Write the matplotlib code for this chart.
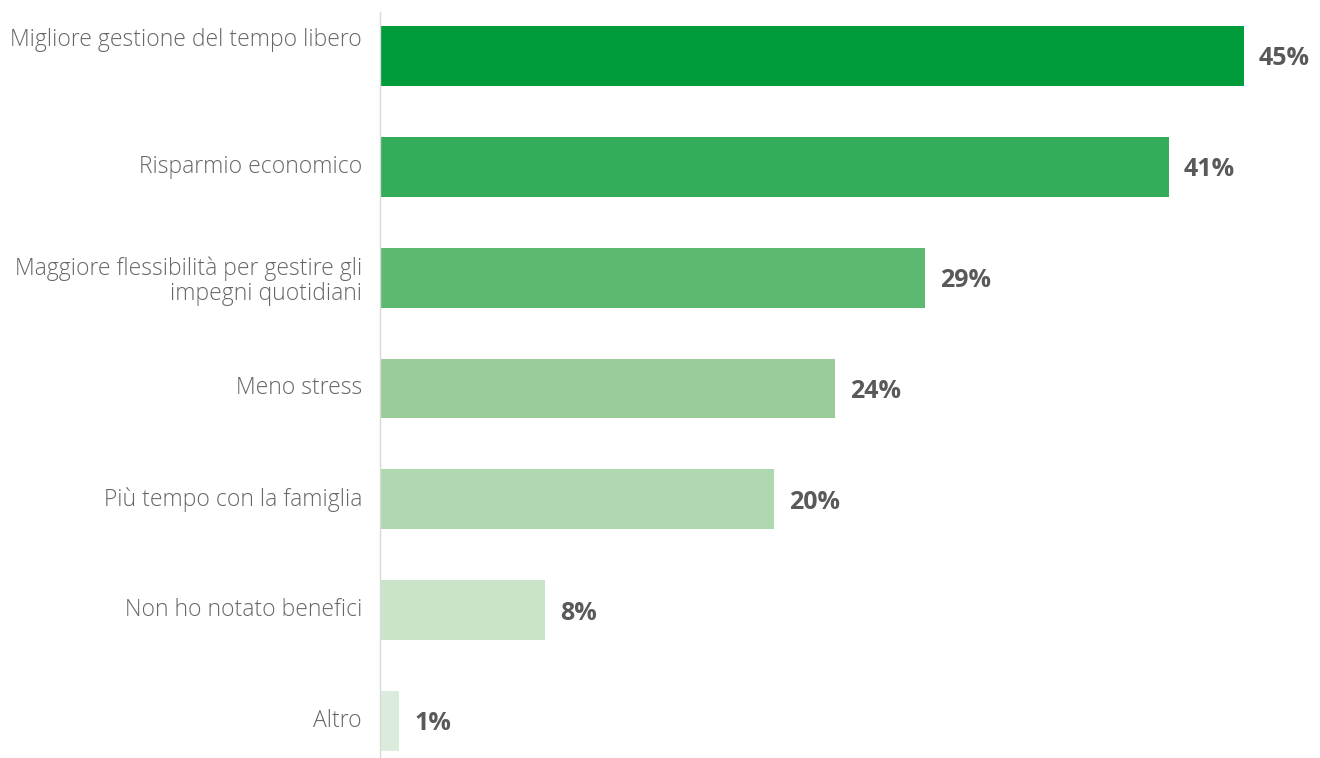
import matplotlib.pyplot as plt

categories = [
    'Migliore gestione del tempo libero',
    'Risparmio economico',
    'Maggiore flessibilità per gestire gli\nimpegni quotidiani',
    'Meno stress',
    'Più tempo con la famiglia',
    'Non ho notato benefici',
    'Altro',
]
values = [45, 41.1, 28.4, 23.7, 20.5, 8.6, 1.0]
value_labels = ['45%', '41%', '29%', '24%', '20%', '8%', '1%']
colors = ['#009c3b', '#34ac5a', '#5db870', '#99cc99', '#b0d8b0', '#c9e4c9', '#dcecdc']

plt.rcParams['font.family'] = ['Open Sans', 'DejaVu Sans']

fig = plt.figure(figsize=(13.2, 7.58), dpi=100)
ax = fig.add_axes([380 / 1320, 0, 940 / 1320, 1 - 12 / 758])

pos = list(range(len(categories)))
ax.barh(pos, values, height=0.54, color=colors)

ax.set_xlim(0, 45 * 940 / 864)
ax.set_ylim(6.334, -0.397)

for i, (v, lab) in enumerate(zip(values, value_labels)):
    ax.annotate(lab, (v, i), xytext=(15, -3), textcoords='offset pixels',
                ha='left', va='center', fontsize=18, fontweight='bold',
                color='#595959')

# category labels, first one sits a bit higher like in the original
for i, cat in enumerate(categories):
    dy = 16 if i == 0 else (-4 if '\n' in cat else 0)
    ax.annotate(cat, (0, i), xytext=(-18, dy), textcoords='offset pixels',
                ha='right', va='center', fontsize=16.5, fontweight='light',
                color='#666666', linespacing=1.05, annotation_clip=False)

ax.set_xticks([])
ax.set_yticks([])
for s in ['top', 'right', 'bottom']:
    ax.spines[s].set_visible(False)
ax.spines['left'].set_color('#d9d9d9')
ax.spines['left'].set_linewidth(1)

fig.savefig('out.png', dpi=100)
